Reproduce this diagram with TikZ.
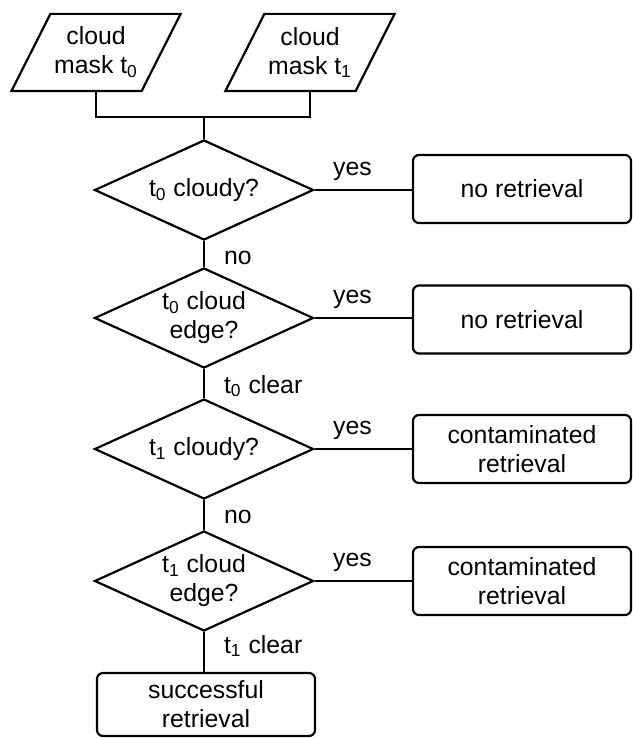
\documentclass[tikz,border=0pt]{standalone}
\usepackage{fontspec}
\setmainfont{Liberation Sans}
\usetikzlibrary{shapes.geometric,calc}
\begin{document}
\begin{tikzpicture}[x=0.5pt,y=-0.5pt, line width=1.1pt,
  every node/.style={font=\fontsize{12.4}{14.5}\selectfont, align=center, inner sep=0pt},
  dec/.style={diamond, draw, shape aspect=2.19, minimum width=109.5pt, minimum height=50pt},
  res/.style={rectangle, rounded corners=3pt, draw, minimum width=109pt, minimum height=34pt},
  io/.style={minimum width=64pt, minimum height=37.5pt},
  lbl/.style={anchor=base west}]
\useasboundingbox (0,0) rectangle (632,738);

% inputs
\node[io] (p1) at (96,52.5) {cloud\\mask t\textsubscript{0}};
\node[io] (p2) at (310,52.5) {cloud\\mask t\textsubscript{1}};
\draw ([xshift=9.75pt]p1.north west) -- ([xshift=9.75pt]p1.north east) -- ([xshift=-9.75pt]p1.south east) -- ([xshift=-9.75pt]p1.south west) -- cycle;
\draw ([xshift=9.75pt]p2.north west) -- ([xshift=9.75pt]p2.north east) -- ([xshift=-9.75pt]p2.south east) -- ([xshift=-9.75pt]p2.south west) -- cycle;

% decisions
\node[dec] (d1) at (204,190) {t\textsubscript{0} cloudy?};
\node[dec] (d2) at (204,318) {t\textsubscript{0} cloud\\edge?};
\node[dec] (d3) at (204,449) {t\textsubscript{1} cloudy?};
\node[dec] (d4) at (204,581) {t\textsubscript{1} cloud\\edge?};

% results
\node[res] (b1) at (522,189) {no retrieval};
\node[res] (b2) at (522,319.5) {no retrieval};
\node[res] (b3) at (522,449) {contaminated\\retrieval};
\node[res] (b4) at (522,581) {contaminated\\retrieval};
\node[res, minimum height=31.5pt] (s) at (206,704.5) {successful\\retrieval};

% connectors
\coordinate (j) at (204,117);
\draw (p1.south) |- (j) -| (p2.south);
\draw (j) -- (d1.north);
\draw (d1.south) -- (d2.north);
\draw (d2.south) -- (d3.north);
\draw (d3.south) -- (d4.north);
\draw (d4.south) -- (d4.south |- s.north);
\draw (d1.east) -- (d1.east -| b1.west);
\draw (d2.east) -- (d2.east -| b2.west);
\draw (d3.east) -- (d3.east -| b3.west);
\draw (d4.east) -- (d4.east -| b4.west);

% labels
\node[lbl] (y1) at (332,175) {yes};
\node[lbl] (y2) at (332,303) {yes};
\node[lbl] (y3) at (332,434) {yes};
\node[lbl] (y4) at (332,566) {yes};
\node[lbl] (n1) at (223,264) {no};
\node[lbl] (c1) at (223,393) {t\textsubscript{0} clear};
\node[lbl] (n2) at (223,523) {no};
\node[lbl] (c2) at (223,653) {t\textsubscript{1} clear};
\end{tikzpicture}
\end{document}
